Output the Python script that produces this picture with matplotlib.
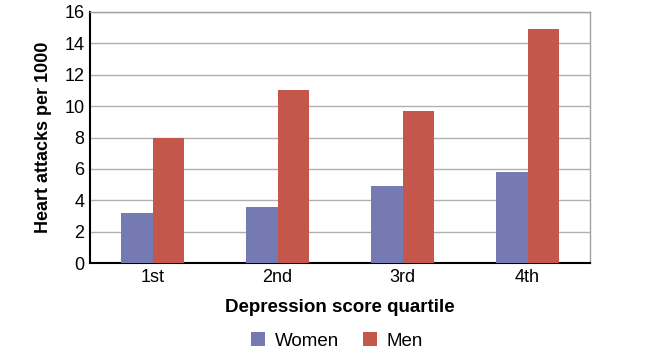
import numpy as np
import matplotlib.pyplot as plt

plt.rcParams['font.family'] = ['Liberation Sans', 'DejaVu Sans']

quartiles = ["1st", "2nd", "3rd", "4th"]
women = [3.2, 3.6, 4.9, 5.8]
men = [8.0, 11.0, 9.7, 14.9]

fig = plt.figure(figsize=(6.49, 3.56), dpi=100)
ax = fig.add_axes([90/649, 1-263/356, 500/649, 251/356])

x = np.arange(len(quartiles))
w = 0.25
ax.bar(x - w/2, women, w, color='#767ab2', label='Women', zorder=3)
ax.bar(x + w/2, men, w, color='#c5564b', label='Men', zorder=3)

ax.set_xlim(-0.5, 3.5)
ax.set_ylim(0, 16)
ax.set_yticks(range(0, 17, 2))
ax.set_xticks(x)
ax.set_xticklabels(quartiles)
ax.grid(axis='y', color='#b0b0b0', linewidth=1, zorder=0)
ax.tick_params(axis='both', labelsize=13, length=0, pad=4)

for s in ['top', 'right']:
    ax.spines[s].set_color('#a0a0a0')
    ax.spines[s].set_linewidth(1)
for s in ['left', 'bottom']:
    ax.spines[s].set_color('black')
    ax.spines[s].set_linewidth(1.5)

ax.set_xlabel("Depression score quartile", fontsize=13.5, fontweight='bold', labelpad=10)
ax.set_ylabel("Heart attacks per 1000", fontsize=13, fontweight='bold', labelpad=9)

fig.legend(loc='center', bbox_to_anchor=(337/649, 1-341/356), ncol=2, frameon=False,
           fontsize=13.5, handlelength=0.75, handleheight=0.75, columnspacing=1.3, handletextpad=0.5)

fig.savefig("out.png", dpi=100)
